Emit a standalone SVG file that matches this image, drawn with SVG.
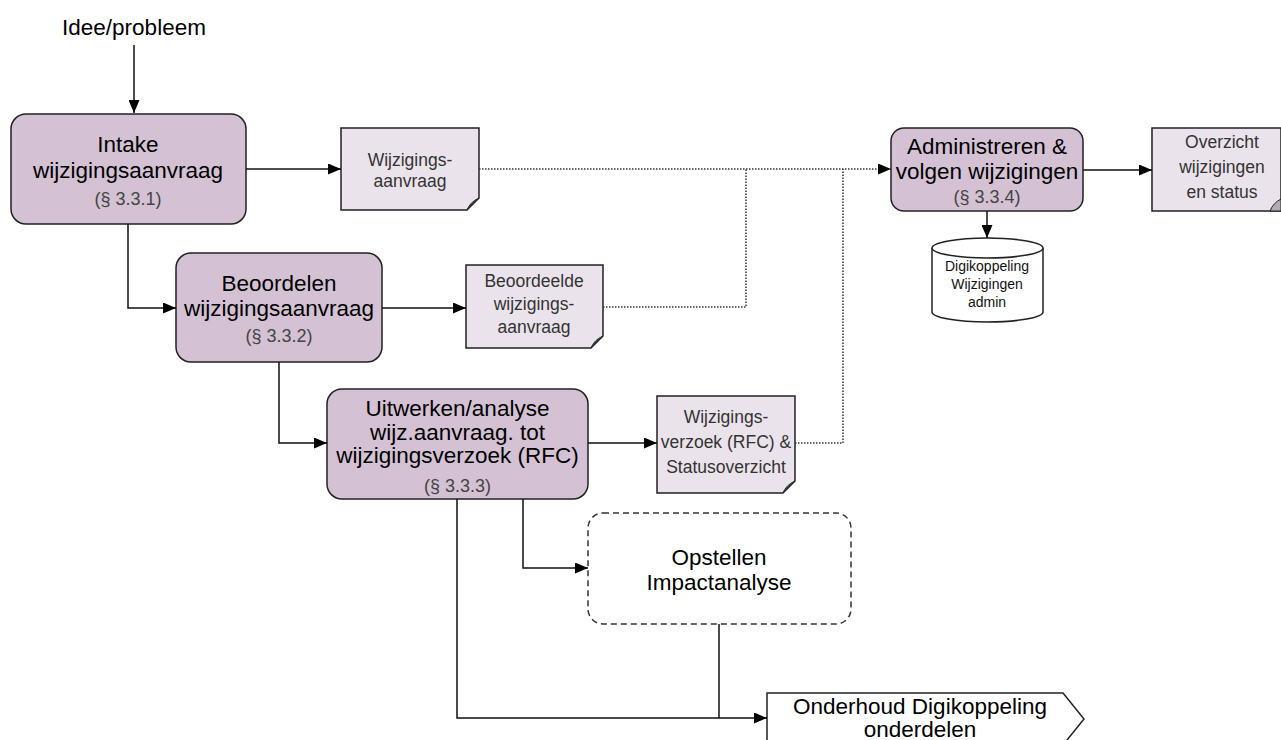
<svg xmlns="http://www.w3.org/2000/svg" width="1281" height="740" viewBox="0 0 1281 740">
<defs>
<marker id="ah" viewBox="0 0 13 11" refX="13" refY="5.5" markerWidth="13" markerHeight="11" markerUnits="userSpaceOnUse" orient="auto">
<path d="M0,0 L13,5.5 L0,11 Z" fill="#000"/>
</marker>
</defs>
<style>
.proc{fill:#d4c2d4;stroke:#222;stroke-width:1.5}
.doc{fill:#ebe3eb;stroke:#222;stroke-width:1.5}
.fold{fill:#b4aab4;stroke:#222;stroke-width:1}
.t{font-family:"Liberation Sans",Arial,sans-serif;font-size:22.5px;fill:#000;text-anchor:middle}
.s{font-family:"Liberation Sans",Arial,sans-serif;font-size:18px;fill:#444;text-anchor:middle}
.d{font-family:"Liberation Sans",Arial,sans-serif;font-size:17.5px;fill:#333;text-anchor:middle}
.c{font-family:"Liberation Sans",Arial,sans-serif;font-size:14px;fill:#111;text-anchor:middle}
.ln{fill:none;stroke:#111;stroke-width:1.5}
.dot{fill:none;stroke:#333;stroke-width:1.5;stroke-dasharray:1.5,1.5}
</style>
<rect width="1281" height="740" fill="#fff"/>

<g id="start">
<text class="t" x="134" y="35">Idee/probleem</text>
</g>

<g id="intake">
<rect class="proc" x="11" y="114" width="235" height="110" rx="15"/>
<text class="t" x="128" y="152">Intake</text>
<text class="t" x="128" y="178">wijzigingsaanvraag</text>
<text class="s" x="128" y="205">(§ 3.3.1)</text>
</g>

<g id="doc-wijzigingsaanvraag">
<path class="doc" d="M341,128 H479 V198 L467,210 H341 Z"/>
<path class="fold" d="M467,210 Q470,202 479,198 Q472,203 467,210 Z"/>
<text class="d" x="410" y="166">Wijzigings-</text>
<text class="d" x="410" y="187">aanvraag</text>
</g>

<g id="beoordelen">
<rect class="proc" x="176" y="253" width="206" height="109" rx="15"/>
<text class="t" x="279" y="291">Beoordelen</text>
<text class="t" x="279" y="316">wijzigingsaanvraag</text>
<text class="s" x="279" y="342">(§ 3.3.2)</text>
</g>

<g id="doc-beoordeelde">
<path class="doc" d="M466,265 H603 V336 L591,348 H466 Z"/>
<path class="fold" d="M591,348 Q594,340 603,336 Q596,341 591,348 Z"/>
<text class="d" x="534" y="287">Beoordeelde</text>
<text class="d" x="534" y="310">wijzigings-</text>
<text class="d" x="534" y="333">aanvraag</text>
</g>

<g id="uitwerken">
<rect class="proc" x="327" y="389" width="261" height="110" rx="15"/>
<text class="t" x="457.5" y="416">Uitwerken/analyse</text>
<text class="t" x="457.5" y="440">wijz.aanvraag. tot</text>
<text class="t" x="457.5" y="463">wijzigingsverzoek (RFC)</text>
<text class="s" x="457.5" y="492">(§ 3.3.3)</text>
</g>

<g id="doc-rfc">
<path class="doc" d="M657,396 H795 V481 L783,493 H657 Z"/>
<path class="fold" d="M783,493 Q786,485 795,481 Q788,486 783,493 Z"/>
<text class="d" x="726" y="423">Wijzigings-</text>
<text class="d" x="726" y="448">verzoek (RFC) &amp;</text>
<text class="d" x="726" y="473">Statusoverzicht</text>
</g>

<g id="administreren">
<rect class="proc" x="891" y="128" width="192" height="83" rx="13"/>
<text class="t" x="987" y="154">Administreren &amp;</text>
<text class="t" x="987" y="179">volgen wijzigingen</text>
<text class="s" x="987" y="203">(§ 3.3.4)</text>
</g>

<g id="doc-overzicht">
<path class="doc" d="M1152,128 H1281 V211 H1152 Z"/>
<path class="fold" d="M1270,211 Q1273,203 1281,199 L1281,211 Z"/>
<text class="d" x="1222" y="148">Overzicht</text>
<text class="d" x="1222" y="173">wijzigingen</text>
<text class="d" x="1222" y="198">en status</text>
</g>

<g id="database">
<path d="M932,248 V312 A55.5,10 0 0 0 1043,312 V248" fill="#fff" stroke="#222" stroke-width="1.5"/>
<ellipse cx="987.5" cy="248" rx="55.5" ry="10" fill="#fff" stroke="#222" stroke-width="1.5"/>
<text class="c" x="987" y="271">Digikoppeling</text>
<text class="c" x="987" y="289">Wijzigingen</text>
<text class="c" x="987" y="307">admin</text>
</g>

<g id="impactanalyse">
<rect x="588" y="513" width="263" height="111" rx="15" fill="#fff" stroke="#333" stroke-width="1.5" stroke-dasharray="6,4"/>
<text class="t" x="719" y="565">Opstellen</text>
<text class="t" x="719" y="590">Impactanalyse</text>
</g>

<g id="onderhoud">
<path d="M767,693 H1063 L1084,719 L1063,745 H767 Z" fill="#fff" stroke="#222" stroke-width="1.5"/>
<text class="t" x="920" y="714">Onderhoud Digikoppeling</text>
<text class="t" x="920" y="737">onderdelen</text>
</g>

<g id="connectors">
<path class="ln" d="M134,45 V113" marker-end="url(#ah)"/>
<path class="ln" d="M246,169 H341" marker-end="url(#ah)"/>
<path class="dot" d="M479,169 H891" marker-end="url(#ah)"/>
<path class="ln" d="M128,224 V308 H176" marker-end="url(#ah)"/>
<path class="ln" d="M382,308 H466" marker-end="url(#ah)"/>
<path class="dot" d="M603,307 H746 V169"/>
<path class="ln" d="M279,362 V443 H327" marker-end="url(#ah)"/>
<path class="ln" d="M588,443 H657" marker-end="url(#ah)"/>
<path class="dot" d="M795,443 H843 V169"/>
<path class="ln" d="M523,499 V568 H588" marker-end="url(#ah)"/>
<path class="ln" d="M457,499 V718 H767" marker-end="url(#ah)"/>
<path class="ln" d="M719,624 V718"/>
<path class="ln" d="M1083,170 H1152" marker-end="url(#ah)"/>
<path class="ln" d="M987,211 V238" marker-end="url(#ah)"/>
</g>
</svg>
